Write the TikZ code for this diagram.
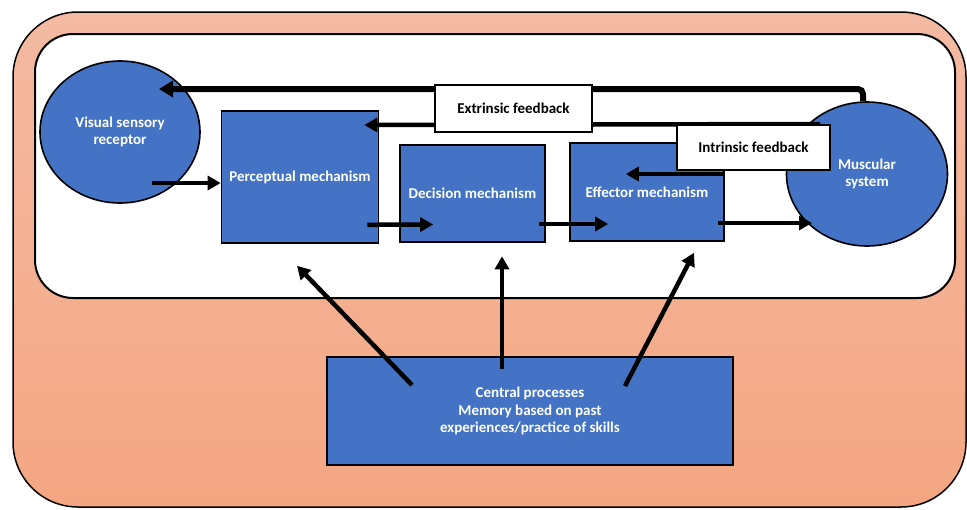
\documentclass[tikz,border=0pt]{standalone}
\usepackage{fontspec}
\setmainfont{Carlito}
\usetikzlibrary{shapes.geometric,arrows.meta}
\definecolor{boxblue}{RGB}{68,114,196}
\definecolor{salmontop}{RGB}{244,186,163}
\definecolor{salmonbot}{RGB}{244,166,130}
\begin{document}
\begin{tikzpicture}[x=1pt,y=-1pt,
 every node/.style={font=\fontsize{15}{17.5}\selectfont\bfseries, align=center, inner sep=0pt},
 bluebox/.style={rectangle, draw=black, line width=1.6pt, fill=boxblue, text=white},
 blueell/.style={ellipse, draw=black, line width=1.6pt, fill=boxblue, text=white},
 fbbox/.style={rectangle, draw=black, line width=1.6pt, fill=white, text=black},
 arr/.style={line width=4.5pt, -{Triangle[length=13pt,width=14pt]}},
 toparr/.style={line width=6pt, -{Triangle[length=14pt,width=16pt]}, rounded corners=5pt},
]
\useasboundingbox (0,0) rectangle (967,509);
% frames
\draw[line width=1.5pt, top color=salmontop, bottom color=salmonbot, rounded corners=65pt] (13,12) rectangle (966,507);
\draw[line width=2pt, fill=white, rounded corners=38pt] (35,34) rectangle (955,298);
% main blocks
\node[blueell, minimum width=160pt, minimum height=142pt] (vis) at (120,132) {Visual sensory\\receptor};
\node[bluebox, minimum width=157pt, minimum height=132pt] (per) at (300,177) {Perceptual mechanism};
\node[bluebox, minimum width=145pt, minimum height=97pt] (dec) at (472.5,193.5) {Decision mechanism};
\node[bluebox, minimum width=154pt, minimum height=98pt] (eff) at (647,192) {Effector mechanism};
\node[blueell, minimum width=161pt, minimum height=144pt] (mus) at (867,174) {Muscular\\system};
\node[bluebox, minimum width=406pt, minimum height=108pt] (cen) at (530,411) {Central processes\\Memory based on past\\experiences/practice of skills};
% feedback lines behind labels
\draw[toparr] ([xshift=-4pt]mus.north) |- ([xshift=39pt,yshift=43pt]vis.center);
\draw[arr] ([xshift=-47pt,yshift=50pt]mus.center) -- ([xshift=-15pt,yshift=52pt]per.east);
\node[fbbox, minimum width=157pt, minimum height=47pt] (ext) at (513.5,108.5) {Extrinsic feedback};
\node[fbbox, minimum width=153pt, minimum height=45pt] (int) at (753.5,147.5) {Intrinsic feedback};
\draw[arr] ([yshift=18pt]eff.east) -- ([xshift=-99pt,yshift=18pt]eff.east);
% flow arrows
\draw[arr] ([xshift=32pt,yshift=-51pt]vis.center) -- ([yshift=-6pt]per.west);
\draw[arr] ([xshift=-12pt,yshift=19pt]per.south east) -- ([xshift=34pt,yshift=-31pt]dec.west);
\draw[arr] ([xshift=-7pt,yshift=-30.5pt]dec.east) -- ([xshift=39pt,yshift=-32pt]eff.west);
\draw[arr] ([xshift=-7pt,yshift=-31pt]eff.east) -- ([xshift=-55pt,yshift=-49pt]mus.center);
% central process arrows
\draw[arr] ([xshift=-118pt,yshift=26pt]cen.center) -- ([xshift=-3pt,yshift=-22pt]per.south);
\draw[arr] ([xshift=-28pt,yshift=42pt]cen.center) -- ([xshift=29.5pt,yshift=-13.5pt]dec.south);
\draw[arr] ([xshift=95pt,yshift=25pt]cen.center) -- ([xshift=47pt,yshift=-11pt]eff.south);
\end{tikzpicture}
\end{document}
